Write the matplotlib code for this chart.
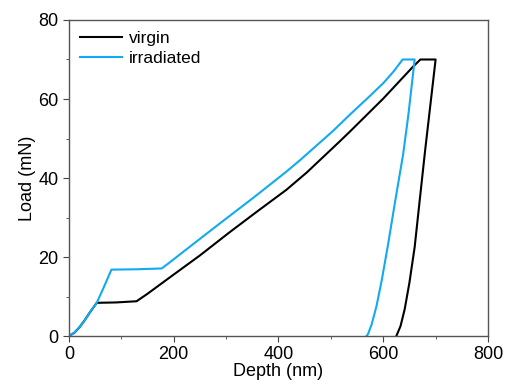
import matplotlib

matplotlib.use("Agg")
import matplotlib.pyplot as plt
from matplotlib.ticker import MultipleLocator

plt.rcParams["font.family"] = ["Liberation Sans", "DejaVu Sans"]

# depth (nm) / load (mN)
virgin_depth = [0, 10, 20, 30, 40, 53, 90, 129, 150, 189, 250, 307, 360, 415, 454,
                514, 536, 600, 657, 671, 700, 690, 680, 670, 660, 650, 641, 633, 625]
virgin_load = [0, 0.8, 2.2, 4.0, 6.0, 8.4, 8.5, 8.8, 10.7, 14.5, 20.4, 26.3, 31.6, 37.0, 41.4,
               48.9, 51.7, 60.1, 68.2, 70, 70, 58.5, 47.0, 34.8, 22.5, 13.5, 6.8, 2.5, 0]

irr_depth = [0, 10, 20, 30, 40, 53, 67, 81, 130, 177, 190, 218, 288, 352, 415, 441,
             504, 536, 570, 600, 620, 637, 660, 648, 638, 622, 609, 597, 587, 578, 571, 568]
irr_load = [0, 0.8, 2.2, 4.0, 6.0, 8.4, 12.5, 16.8, 16.9, 17.1, 18.4, 21.3, 28.5, 35.0, 41.6, 44.5,
            51.9, 56.0, 60.2, 64.0, 67.0, 70, 70, 56, 46, 33.5, 23, 14, 7.5, 3, 0.5, 0]

fig = plt.figure(figsize=(5.05, 3.89), dpi=100)
ax = fig.add_axes([0.1366, 0.1362, 0.8297, 0.8124])

ax.plot(virgin_depth, virgin_load, color="black", linewidth=1.5, label="virgin")
ax.plot(irr_depth, irr_load, color="#12aaf0", linewidth=1.5, label="irradiated")

ax.set_xlim(0, 800)
ax.set_ylim(0, 80)
ax.xaxis.set_major_locator(MultipleLocator(200))
ax.xaxis.set_minor_locator(MultipleLocator(100))
ax.yaxis.set_major_locator(MultipleLocator(20))
ax.yaxis.set_minor_locator(MultipleLocator(10))
ax.tick_params(which="both", direction="out", labelsize=13, color="#444444")
ax.tick_params(which="major", length=4)
ax.tick_params(which="minor", length=2.5)
for spine in ax.spines.values():
    spine.set_color("#555555")
    spine.set_linewidth(1.0)

ax.set_xlabel("Depth (nm)", fontsize=13, labelpad=0)
ax.set_ylabel("Load (mN)", fontsize=13, labelpad=2)

ax.legend(loc="upper left", frameon=False, fontsize=12.5, handlelength=2.4,
          handletextpad=0.4, labelspacing=0.25, borderaxespad=0.25)

fig.savefig("out.png", dpi=100, facecolor="white")
